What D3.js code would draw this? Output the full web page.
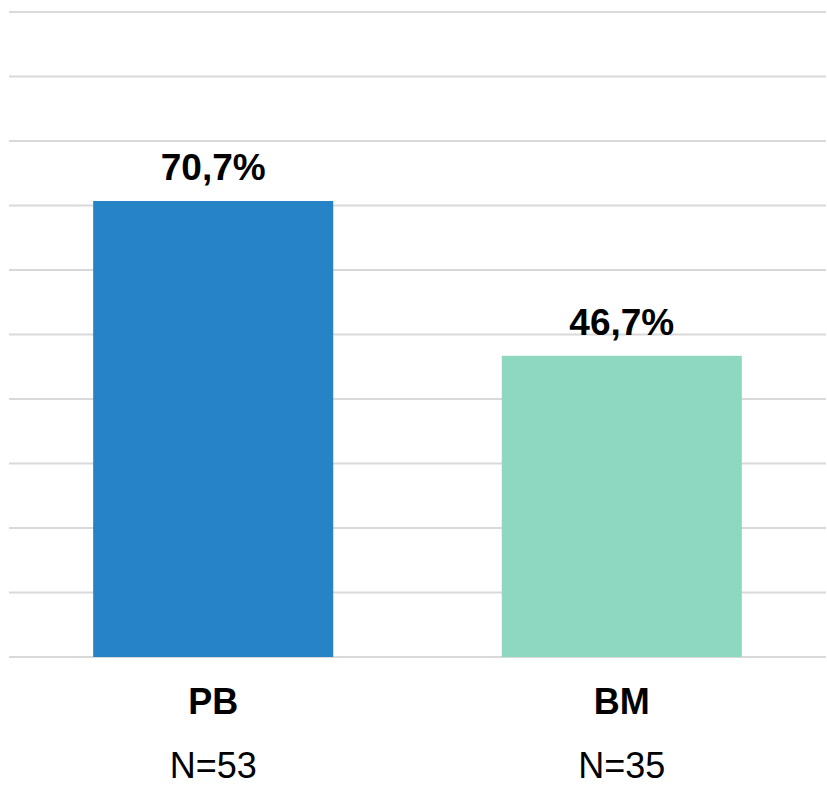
<!DOCTYPE html>
<html>
<head>
<meta charset="utf-8">
<script src="https://cdn.jsdelivr.net/npm/d3@7"></script>
<style>
  body { margin: 0; background: #fff; }
  text { font-family: "Liberation Sans", Arial, sans-serif; }
</style>
</head>
<body>
<div id="chart"></div>
<script>
// categories, values and sample sizes
var categories = ["PB", "BM"];
var values = [70.7, 46.7];
var counts = ["N=53", "N=35"];
var colors = ["#2683c6", "#8ed8c2"];
var gridTicks = [0, 10, 20, 30, 40, 50, 60, 70, 80, 90, 100];

var W = 827, H = 786;
var margin = { top: 12, right: 1, bottom: 129, left: 9 },
    width = W - margin.left - margin.right,
    height = H - margin.top - margin.bottom;

var svg = d3.select("#chart")
    .append("svg")
    .attr("width", W)
    .attr("height", H)
    .append("g")
    .attr("transform", "translate(" + margin.left + "," + margin.top + ")");

var x = d3.scaleBand()
    .domain(categories)
    .range([0, width])
    .paddingInner(0.4125)
    .paddingOuter(0.206);

var y = d3.scaleLinear()
    .domain([0, 100])
    .range([height, 0]);

// horizontal gridlines
svg.append("g")
    .selectAll("line")
    .data(gridTicks)
    .join("line")
    .attr("x1", 0)
    .attr("x2", width)
    .attr("y1", d => y(d))
    .attr("y2", d => y(d))
    .style("stroke", "#d9d9d9")
    .style("stroke-width", 2);

var data = categories.map((c, i) => ({ cat: c, value: values[i], n: counts[i], color: colors[i] }));

// bars
svg.selectAll("rect.bar")
    .data(data)
    .join("rect")
    .attr("class", "bar")
    .attr("x", d => x(d.cat))
    .attr("width", x.bandwidth())
    .attr("y", d => y(d.value))
    .attr("height", d => y(0) - y(d.value))
    .style("fill", d => d.color);

// value labels
svg.selectAll("text.val")
    .data(data)
    .join("text")
    .attr("class", "val")
    .attr("text-anchor", "middle")
    .attr("x", d => x(d.cat) + x.bandwidth() / 2)
    .attr("y", d => y(d.value) - 21)
    .style("font-size", "37px")
    .style("font-weight", "bold")
    .text(d => d.value.toFixed(1).replace(".", ",") + "%");

// category labels
svg.selectAll("text.cat")
    .data(data)
    .join("text")
    .attr("class", "cat")
    .attr("text-anchor", "middle")
    .attr("x", d => x(d.cat) + x.bandwidth() / 2)
    .attr("y", height + 57)
    .style("font-size", "36px")
    .style("font-weight", "bold")
    .text(d => d.cat);

// sample sizes
svg.selectAll("text.n")
    .data(data)
    .join("text")
    .attr("class", "n")
    .attr("text-anchor", "middle")
    .attr("x", d => x(d.cat) + x.bandwidth() / 2)
    .attr("y", height + 121)
    .style("font-size", "36px")
    .text(d => d.n);
</script>
</body>
</html>
